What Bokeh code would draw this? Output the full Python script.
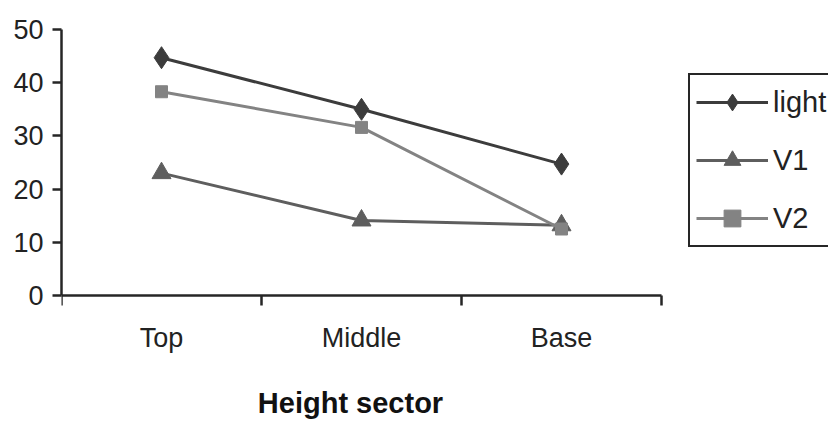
from bokeh.embed import file_html
from bokeh.models import FixedTicker, Label, Legend, LegendItem, Range1d
from bokeh.plotting import figure
from bokeh.resources import INLINE

# Height sectors along the stem and the measured values per series
sectors = ["Top", "Middle", "Base"]
light = [44.7, 35.0, 24.7]
v1 = [23.0, 14.1, 13.2]
v2 = [38.3, 31.6, 12.5]
y_ticks = [0, 10, 20, 30, 40, 50]

xs = list(range(1, len(sectors) + 1))
x_lo, x_hi = 0.5, len(sectors) + 0.5
y_lo, y_hi = 0, 50

# The plotting area fills the page to the right and bottom edges: the legend
# sits beside the data and the sector labels sit under the x axis, which is
# pinned at y = 0 and bounded to the sector span.
p = figure(
    width=828,
    height=422,
    x_range=Range1d(x_lo, x_hi + 0.835),
    y_range=Range1d(y_lo - 23.87, y_hi),
    output_backend="svg",
    toolbar_location=None,
    min_border_left=61,
    min_border_right=0,
    min_border_top=29,
    min_border_bottom=0,
)
p.outline_line_color = None
p.xgrid.visible = False
p.ygrid.visible = False
p.background_fill_color = "white"
p.border_fill_color = "white"

axis_color = "#262626"
font = "Liberation Sans"

# x axis: labels at the sector centres, tick marks between sectors
xa = p.xaxis[0]
xa.fixed_location = y_lo
xa.bounds = (x_lo, x_hi)
xa.ticker = FixedTicker(ticks=xs, minor_ticks=[x - 0.5 for x in xs] + [x_hi])
xa.major_label_overrides = {x: s for x, s in zip(xs, sectors)}
xa.major_tick_line_color = None
xa.major_tick_out = 0
xa.major_tick_in = 0
xa.minor_tick_line_color = axis_color
xa.minor_tick_line_width = 2.5
xa.minor_tick_out = 10
xa.minor_tick_in = 0
xa.axis_line_color = axis_color
xa.axis_line_width = 2.5
xa.major_label_text_font = font
xa.major_label_text_font_size = "27px"
xa.major_label_text_color = "#222222"
xa.major_label_standoff = 17

ya = p.yaxis[0]
ya.bounds = (y_lo, y_hi)
ya.ticker = FixedTicker(ticks=y_ticks)
ya.minor_tick_line_color = None
ya.major_tick_line_color = axis_color
ya.major_tick_line_width = 2.5
ya.major_tick_out = 9
ya.major_tick_in = 0
ya.axis_line_color = axis_color
ya.axis_line_width = 2.5
ya.major_label_text_font = font
ya.major_label_text_font_size = "27px"
ya.major_label_text_color = "#222222"
ya.major_label_standoff = 9

# x axis title, centred under the sectors
p.add_layout(
    Label(
        x=sum(xs) / len(xs),
        y=36,
        y_units="screen",
        x_offset=-11,
        text="Height sector",
        text_align="center",
        text_baseline="top",
        text_font=font,
        text_font_style="bold",
        text_font_size="29px",
        text_color="#111111",
    )
)

series = [
    ("light", light, "#3c3c3c", "diamond", 22),
    ("V1", v1, "#5e5e5e", "triangle", 19),
    ("V2", v2, "#838383", "square", 12),
]

items = []
for name, vals, color, marker, size in series:
    ln = p.line(xs, vals, line_color=color, line_width=3)
    sc = p.scatter(xs, vals, marker=marker, size=size,
                   fill_color=color, line_color=color)
    items.append(LegendItem(label=name, renderers=[ln, sc]))

legend = Legend(
    items=items,
    location=(627, 175),
    orientation="vertical",
    glyph_width=72,
    glyph_height=42,
    label_height=42,
    label_width=70,
    label_standoff=5,
    spacing=16,
    padding=6,
    margin=0,
    border_line_color="#262626",
    border_line_alpha=1.0,
    border_line_width=2.5,
    background_fill_color="white",
    background_fill_alpha=1,
    label_text_font=font,
    label_text_font_size="29px",
    label_text_color="#222222",
)
p.add_layout(legend, "center")

open("out.html", "w").write(file_html(p, INLINE))
